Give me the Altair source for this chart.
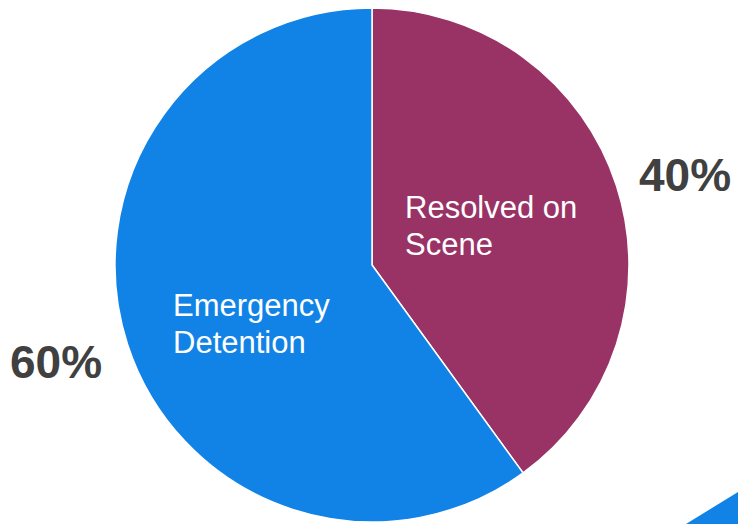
import altair as alt
import pandas as pd

categories = ["Resolved on Scene", "Emergency Detention"]
shares = [40, 60]
slice_labels = ["Resolved on\nScene", "Emergency\nDetention"]
slice_order = [1, 2]
colors = ["#993366", "#1283E6"]

df = pd.DataFrame({
    "category": categories,
    "share": shares,
    "label": slice_labels,
    "order": slice_order,
})

base = alt.Chart(df)

pie = base.mark_arc(outerRadius=257, stroke="white", strokeWidth=1.5).encode(
    theta=alt.Theta("share:Q", stack=True),
    color=alt.Color("category:N", scale=alt.Scale(domain=categories, range=colors), legend=None),
    order=alt.Order("order:Q"),
    x=alt.value(372),
    y=alt.value(265),
)

def inner_label(cat, x, y):
    return base.transform_filter(alt.datum.category == cat).mark_text(
        align="left", baseline="alphabetic", fontSize=31, color="white",
        font="Liberation Sans", lineBreak="\n", lineHeight=37,
    ).encode(text="label:N", x=alt.value(x), y=alt.value(y))

def pct_label(cat, x, y):
    return base.transform_filter(alt.datum.category == cat).transform_calculate(
        pct="datum.share + '%'"
    ).mark_text(
        align="left", baseline="alphabetic", fontSize=46, fontWeight="bold",
        color="#404040", font="Liberation Sans",
    ).encode(text="pct:N", x=alt.value(x), y=alt.value(y))

deco = base.transform_filter(alt.datum.category == categories[0]).mark_point(
    shape="M -1 1 L 1 -0.23 L 1 1 Z", filled=True, opacity=1, color="#1283E6", size=2704,
).encode(x=alt.value(712), y=alt.value(498))

chart = alt.layer(
    pie,
    inner_label(categories[0], 405, 218),
    inner_label(categories[1], 173, 316),
    pct_label(categories[0], 639, 191),
    pct_label(categories[1], 10, 378),
    deco,
).properties(
    width=738, height=524, autosize=alt.AutoSizeParams(type="none"), padding=0
).configure_view(stroke=None)

chart.save("out.html", embed_options={"renderer": "svg", "actions": False})
